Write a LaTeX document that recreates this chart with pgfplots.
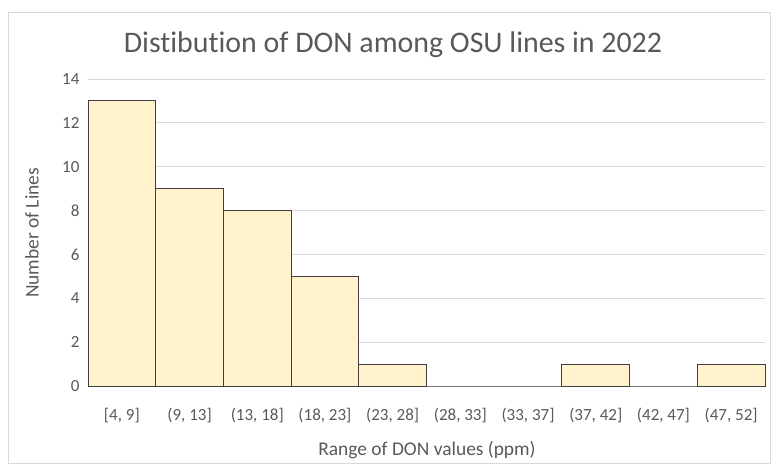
\documentclass[border=0pt]{standalone}
\usepackage{fontspec}
\setmainfont{Carlito}[Ligatures=NoCommon]
\usepackage{pgfplots}
\pgfplotsset{compat=1.18}
\definecolor{barfill}{HTML}{FFF2CC}
\definecolor{txt}{HTML}{595959}
\definecolor{gridc}{HTML}{D9D9D9}
\newcommand{\tickfont}{\fontsize{17bp}{18bp}\selectfont}
\begin{document}
\begin{tikzpicture}
% invisible frame = image size (1bp = 1px)
\path (-88bp,-84bp) rectangle (685bp,386bp);
\draw[gridc, line width=0.8bp] (-80bp,-77bp) rectangle (682bp,374bp);
\begin{axis}[
    at={(0,0)}, anchor=south west,
    scale only axis, width=677bp, height=307bp,
    xmin=-0.5, xmax=9.5, ymin=0, ymax=14,
    ybar, bar width=1,
    axis line style={draw=none},
    tick style={draw=none},
    ymajorgrids, grid style={gridc, line width=0.8bp},
    ytick={0,2,...,14},
    xtick={0,...,9},
    xticklabels={{[4, 9]},{(9, 13]},{(13, 18]},{(18, 23]},{(23, 28]},{(28, 33]},{(33, 37]},{(37, 42]},{(42, 47]},{(47, 52]}},
    tick label style={font=\tickfont, text=txt},
    xticklabel style={yshift=-14bp},
    yticklabel style={xshift=-5bp},
    yticklabel={\tickfont\pgfmathprintnumber{\tick}},
    /pgf/number format/assume math mode=true,
    clip=false,
]
\addplot[fill=barfill, draw=black!75, line width=1bp] coordinates {
    (0,13) (1,9) (2,8) (3,5) (4,1) (5,0) (6,0) (7,1) (8,0) (9,1)
};
\end{axis}
\node[text=txt, font=\fontsize{30}{30}\selectfont] at (305bp,341bp) {Distibution of DON among OSU lines in 2022};
\node[text=txt, font=\fontsize{19.5}{19.5}\selectfont, rotate=90] at (-56bp,153bp) {Number of Lines};
\node[text=txt, font=\fontsize{19.5}{19.5}\selectfont] at (339bp,-64bp) {Range of DON values (ppm)};
\end{tikzpicture}
\end{document}
